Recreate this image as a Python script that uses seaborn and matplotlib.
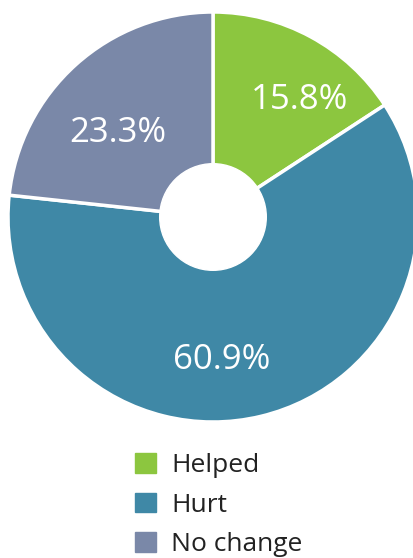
import matplotlib
matplotlib.use("Agg")
import matplotlib.pyplot as plt
import matplotlib.patches as mpatches
import seaborn as sns

# data
categories = ["Helped", "Hurt", "No change"]
shares = [15.8, 60.9, 23.3]
colors = ["#8cc63f", "#3f88a6", "#7a88a8"]

sns.set_theme(style="white")
plt.rcParams['font.family'] = ['Open Sans', 'DejaVu Sans']

fig = plt.figure(figsize=(4.14, 5.58), dpi=100)
ax = fig.add_axes([8/414, 136/558, 410/414, 410/558])

wedges, texts, autotexts = ax.pie(
    shares, colors=colors, startangle=90, counterclock=False,
    autopct='%1.1f%%', pctdistance=0.69, radius=1,
    wedgeprops=dict(edgecolor='white', linewidth=2.5),
    textprops=dict(color='white', fontsize=25))
ax.add_patch(plt.Circle((0, 0), 0.26, color='white', zorder=5))

# label placement as in the original (not exactly on the wedge middle)
label_pos = [(0.42, 0.57), (0.04, -0.697), (-0.465, 0.41)]
for t, p in zip(autotexts, label_pos):
    t.set_position(p)

ax.set_xlim(-1, 1)
ax.set_ylim(-1, 1)
ax.set_aspect('equal')
ax.axis('off')

handles = [mpatches.Patch(color=c, label=l) for c, l in zip(colors, categories)]
fig.legend(handles=handles, loc='upper left', bbox_to_anchor=(135/414, 1 - 453/558),
           frameon=False, fontsize=19, handlelength=0.78, handleheight=0.78,
           handletextpad=0.6, labelspacing=0.55, borderpad=0, borderaxespad=0,
           labelcolor='#222222')

fig.savefig("out.png", dpi=100)
